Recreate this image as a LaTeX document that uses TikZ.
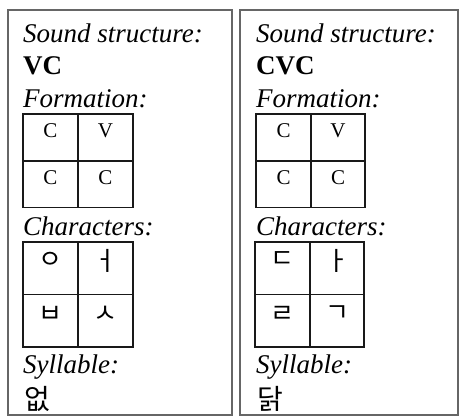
\documentclass[tikz,border=0pt]{standalone}
\usepackage{fontspec}
\setmainfont{Liberation Serif}
\newfontfamily\kr{Noto Sans CJK KR}
\tikzset{
  panel/.style={draw=black!60, line width=1.2pt},
  grid/.style={draw=black!90, line width=1.1pt},
  lbl/.style={anchor=base west, inner sep=0pt, font=\fontsize{27}{32}\selectfont\itshape},
  val/.style={anchor=base west, inner sep=0pt, font=\fontsize{27}{32}\selectfont\bfseries},
  cell/.style={anchor=center, inner sep=0pt, font=\fontsize{21}{25}\selectfont},
  jamo/.style={anchor=center, inner sep=0pt, font=\fontsize{26}{30}\selectfont\kr},
  syl/.style={anchor=north west, inner sep=0pt, font=\fontsize{28}{32}\selectfont\kr}
}
\begin{document}
\begin{tikzpicture}[x=1pt, y=-1pt]
\useasboundingbox (0,0) rectangle (460,417);
% panels
\draw[panel] (8,10) rectangle (232,415);
\draw[panel] (240,10) rectangle (458,415);
% ---------- left panel ----------
\node[lbl] (l1) at (23,43) {Sound structure:};
\node[val] (l2) at (23,75) {VC};
\node[lbl] (l3) at (23,108) {Formation:};
\draw[grid] (23,114) rectangle (133,207.5);
\draw[grid] (78,114) -- (78,207.5);
\draw[grid] (23,161) -- (133,161);
\node[cell] (lf1) at (50.5,131) {C};
\node[cell] (lf2) at (105.5,131) {V};
\node[cell] (lf3) at (50.5,178) {C};
\node[cell] (lf4) at (105.5,178) {C};
\node[lbl] (l4) at (23,235) {Characters:};
\draw[grid] (23,242) rectangle (133,347);
\draw[grid] (78,242) -- (78,347);
\draw[grid] (23,294.5) -- (133,294.5);
\node[jamo] (lc1) at (50.5,260) {ㅇ};
\node[jamo] (lc2) at (105.5,261) {ㅓ};
\node[jamo] (lc3) at (50.5,314) {ㅂ};
\node[jamo] (lc4) at (105.5,314) {ㅅ};
\node[lbl] (l5) at (23,373) {Syllable:};
\node[syl] (l6) at (24,386) {없};
% ---------- right panel ----------
\node[lbl] (r1) at (256,43) {Sound structure:};
\node[val] (r2) at (256,75) {CVC};
\node[lbl] (r3) at (256,108) {Formation:};
\draw[grid] (256,114) rectangle (365,207.5);
\draw[grid] (311,114) -- (311,207.5);
\draw[grid] (256,161) -- (365,161);
\node[cell] (rf1) at (283.5,131) {C};
\node[cell] (rf2) at (338,131) {V};
\node[cell] (rf3) at (283.5,178) {C};
\node[cell] (rf4) at (338,178) {C};
\node[lbl] (r4) at (256,235) {Characters:};
\draw[grid] (255,242) rectangle (364,347);
\draw[grid] (310,242) -- (310,347);
\draw[grid] (255,294.5) -- (364,294.5);
\node[jamo] (rc1) at (282.5,260) {ㄷ};
\node[jamo] (rc2) at (337,261) {ㅏ};
\node[jamo] (rc3) at (282.5,314) {ㄹ};
\node[jamo] (rc4) at (337,314) {ㄱ};
\node[lbl] (r5) at (256,373) {Syllable:};
\node[syl] (r6) at (257,386) {닭};
\end{tikzpicture}
\end{document}
